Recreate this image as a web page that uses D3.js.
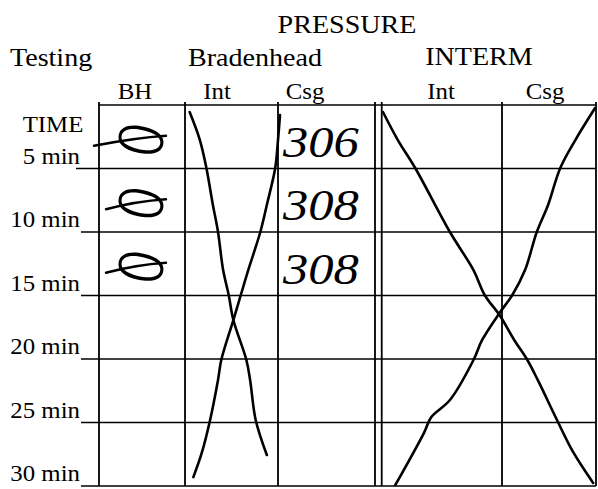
<!DOCTYPE html>
<html>
<head>
<meta charset="utf-8">
<script src="https://cdn.jsdelivr.net/npm/d3@7"></script>
<style>
body { margin: 0; background: #fff; }
svg { display: block; }
</style>
</head>
<body>
<div id="chart"></div>
<script>
var times = [5, 10, 15, 20, 25, 30];
var timeLabels = ["5 min", "10 min", "15 min", "20 min", "25 min", "30 min"];
var groups = ["Bradenhead", "INTERM"];
var columns = ["BH", "Int", "Csg", "Int", "Csg"];
var bhReadings = ["0", "0", "0"];
var csgReadings = ["306", "308", "308"];

// hand drawn traces, [minutes, column position] (0 = BH left edge ... 5 = right edge)
var bradenIntTrace = [[0.55, 1.05], [2.76, 1.16], [4.96, 1.23], [7.87, 1.30], [10, 1.355],
    [13, 1.41], [14.96, 1.47], [16.93, 1.52], [20.08, 1.66], [21.65, 1.70], [24.8, 1.76], [27.56, 1.88]];
var bradenCsgTrace = [[0.79, 2.02], [2.76, 2.0], [4.96, 1.97], [7.87, 1.88], [10, 1.81],
    [13, 1.68], [14.96, 1.60], [16.93, 1.52], [20.08, 1.39], [21.65, 1.355], [24.8, 1.27], [27.4, 1.18], [29.3, 1.09]];
var intermIntTrace = [[0.55, 3.04], [2.76, 3.16], [4.96, 3.30], [10, 3.58], [13, 3.77],
    [14.96, 3.86], [16.54, 3.98], [18.5, 4.13], [20.08, 4.27], [21.65, 4.38], [24.8, 4.585], [27.17, 4.745], [29.76, 4.97]];
var intermCsgTrace = [[0.24, 4.99], [2.76, 4.78], [4.96, 4.62], [7.87, 4.49], [10, 4.37],
    [13, 4.245], [14.96, 4.11], [16.38, 3.98], [18.5, 3.84], [20.08, 3.77], [23.23, 3.58], [24.57, 3.43], [25.83, 3.37], [29.92, 3.14]];

var width = 598, height = 489;
var serif = "'Liberation Serif', 'Times New Roman', serif";

var svg = d3.select("#chart").append("svg")
    .attr("width", width)
    .attr("height", height);

var x = d3.scaleLinear().domain([0, 1, 2, 3, 4, 5]).range([99, 185, 278, 378, 502, 596]);
var y = d3.scaleLinear().domain([0, 30]).range([105, 486]);

function label(txt, px, py, size, anchor) {
    return svg.append("text")
        .attr("transform", "translate(" + px + "," + py + ") scale(1.08,1)")
        .attr("text-anchor", anchor || "middle")
        .attr("font-family", serif)
        .attr("font-size", size)
        .attr("fill", "#000")
        .text(txt);
}

// headings
label("PRESSURE", 347, 33, 26);
label("Testing", 10, 66, 26, "start");
label(groups[0], 255, 66, 26);
label(groups[1], 479, 65, 26);
var colLabelX = [135, 217, 305, 441, 545];
columns.forEach(function (c, i) { label(c, colLabelX[i], 99, 23); });
label("TIME", 53, 132, 23);

// grid
var grid = svg.append("g").attr("stroke", "#000").attr("fill", "none");
grid.append("line")
    .attr("x1", x(0)).attr("x2", x(5))
    .attr("y1", y(0)).attr("y2", y(0))
    .attr("stroke-width", 1.6);
grid.selectAll(".row").data(times).enter().append("line")
    .attr("class", "row")
    .attr("x1", function (d, i) { return i === 0 ? 76 : 81; })
    .attr("x2", x(5))
    .attr("y1", function (d) { return y(d); })
    .attr("y2", function (d) { return y(d); })
    .attr("stroke-width", 1.6);
grid.selectAll(".col").data([0, 1, 2, 2.97, 3.03, 4, 5]).enter().append("line")
    .attr("class", "col")
    .attr("x1", function (d) { return x(d); })
    .attr("x2", function (d) { return x(d); })
    .attr("y1", y(0) - 3).attr("y2", y(30))
    .attr("stroke-width", 1.8);

timeLabels.forEach(function (t, i) {
    label(t, 80, y(times[i]) - 5, 23, "end");
});

// hand traces
var line = d3.line()
    .x(function (d) { return x(d[1]); })
    .y(function (d) { return y(d[0]); })
    .curve(d3.curveCatmullRom);

svg.append("g").selectAll("path")
    .data([bradenIntTrace, bradenCsgTrace, intermIntTrace, intermCsgTrace])
    .enter().append("path")
    .attr("d", line)
    .attr("fill", "none")
    .attr("stroke", "#000")
    .attr("stroke-width", 2.6)
    .attr("stroke-linecap", "round")
    .attr("stroke-linejoin", "round");

// hand readings
var hand = svg.append("g");
bhReadings.forEach(function (v, i) {
    var cx = x(0.5) - 6, cy = y(times[i] - 2.5) + 2;
    hand.append("text")
        .attr("transform", "translate(" + cx + "," + cy + ") rotate(-78)")
        .attr("text-anchor", "middle")
        .attr("dominant-baseline", "central")
        .attr("font-family", "'Noto Sans CJK JP', 'DejaVu Sans', sans-serif")
        .attr("font-weight", 300)
        .attr("font-size", 62)
        .attr("fill", "#000")
        .text(v);
    hand.append("path")
        .attr("d", "M" + (cx - (i === 0 ? 42 : 30)) + "," + (cy + 7) + "Q" + cx + "," + (cy - 1) + " " + (cx + 30) + "," + (cy - 3))
        .attr("fill", "none")
        .attr("stroke", "#000")
        .attr("stroke-width", 2.4)
        .attr("stroke-linecap", "round");
});
csgReadings.forEach(function (v, i) {
    hand.append("text")
        .attr("transform", "translate(" + x(2.05) + "," + (y(times[i]) - 12) + ") scale(1.15,1)")
        .attr("font-family", serif)
        .attr("font-style", "italic")
        .attr("font-size", 44)
        .attr("fill", "#000")
        .text(v);
});
</script>
</body>
</html>
